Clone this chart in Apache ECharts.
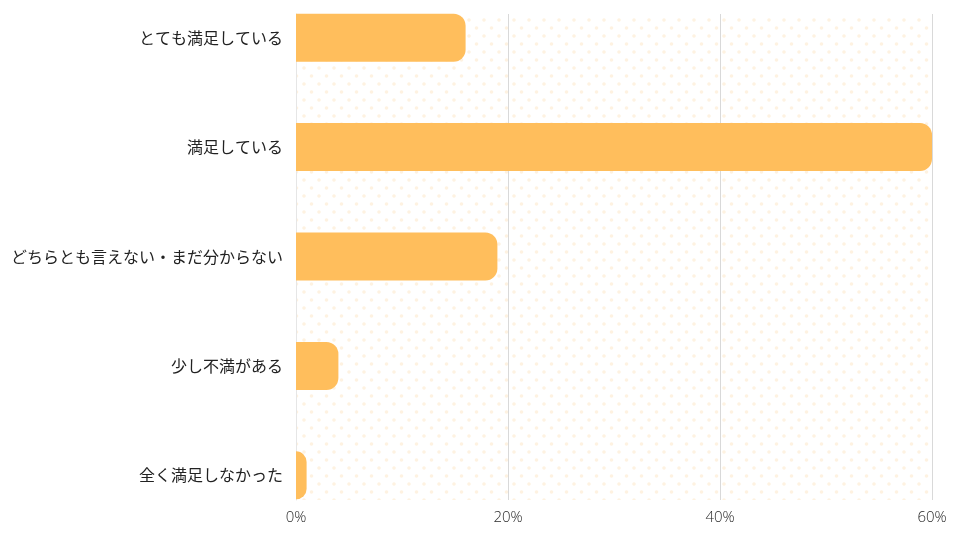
<!DOCTYPE html>
<html>
<head>
<meta charset="utf-8">
<script src="https://cdn.jsdelivr.net/npm/echarts@6/dist/echarts.min.js"></script>
<style>html,body{margin:0;padding:0;background:#fff}#c{width:960px;height:540px}</style>
</head>
<body>
<div id="c"></div>
<script>
var categories = ['とても満足している', '満足している', 'どちらとも言えない・まだ分からない', '少し不満がある', '全く満足しなかった'];
var values = [16, 60, 19, 4, 1];
var tickValues = [0, 20, 40, 60];

function makePattern() {
  var cv = document.createElement('canvas');
  cv.width = 15; cv.height = 16;
  var ctx = cv.getContext('2d');
  ctx.fillStyle = '#fef2e1';
  ctx.beginPath(); ctx.arc(4, 4, 1.8, 0, Math.PI * 2); ctx.fill();
  ctx.beginPath(); ctx.arc(11.5, 12, 1.8, 0, Math.PI * 2); ctx.fill();
  return cv;
}

var chart = echarts.init(document.getElementById('c'), null, {renderer: 'canvas'});
chart.setOption({
  animation: false,
  backgroundColor: '#ffffff',
  grid: [
    {left: 296, right: 28, top: 14, height: 486, show: true, borderWidth: 0, outerBoundsMode: 'none',
     backgroundColor: {image: makePattern(), repeat: 'repeat'}},
    {left: 296, right: 28, top: -17, height: 547, outerBoundsMode: 'none', containLabel: false}
  ],
  xAxis: [
    {gridIndex: 0, type: 'value', min: tickValues[0], max: tickValues[tickValues.length - 1], interval: 20,
     axisLine: {show: false}, axisTick: {show: false},
     splitLine: {show: true, lineStyle: {color: '#d9d9d9', width: 1}},
     axisLabel: {formatter: '{value}%', color: '#2a2a2a', fontFamily: 'Open Sans', fontWeight: 300, fontSize: 15, margin: 10}},
    {gridIndex: 1, type: 'value', min: 0, max: 60, show: false}
  ],
  yAxis: [
    {gridIndex: 0, type: 'category', data: categories, inverse: true,
     axisLine: {show: true, lineStyle: {color: '#e6e6e6'}}, axisTick: {show: false},
     axisLabel: {show: false}, splitLine: {show: false}},
    {gridIndex: 1, type: 'category', data: categories, inverse: true,
     axisLine: {show: false}, axisTick: {show: false},
     axisLabel: {color: '#222', fontFamily: 'Noto Sans CJK JP', fontSize: 16, margin: 13}}
  ],
  series: [{
    type: 'bar', xAxisIndex: 1, yAxisIndex: 1,
    data: values, barWidth: 48,
    itemStyle: {color: '#ffbe5c', borderRadius: [0, 12, 12, 0]}
  }]
});
</script>
</body>
</html>
